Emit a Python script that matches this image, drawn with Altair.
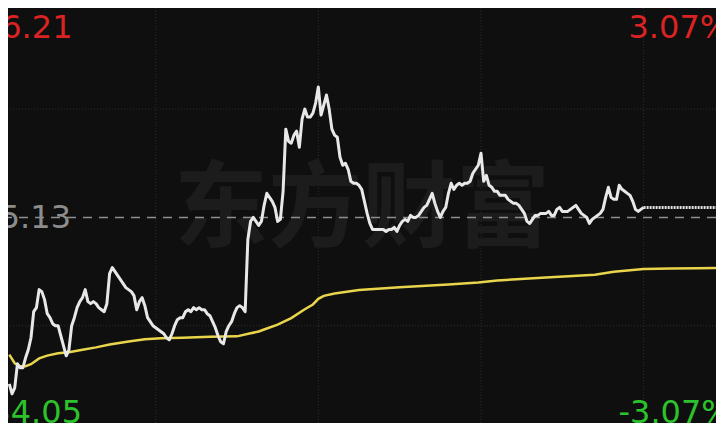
import altair as alt
import pandas as pd

# ---------------- data ----------------
prev_close = 35.13
# trading minutes after 09:30 (240 = 15:00 close)
minutes = list(range(6, 241))
prices = [
    34.30, 34.25, 34.28, 34.40, 34.38, 34.38, 34.43, 34.47, 34.53, 34.66,
    34.68, 34.77, 34.76, 34.72, 34.65, 34.63, 34.60, 34.59, 34.59, 34.54,
    34.49, 34.44, 34.47, 34.59, 34.63, 34.68, 34.71, 34.73, 34.77, 34.71,
    34.70, 34.71, 34.70, 34.68, 34.67, 34.66, 34.70, 34.85, 34.88, 34.86,
    34.84, 34.82, 34.80, 34.78, 34.77, 34.76, 34.74, 34.67, 34.71, 34.73,
    34.69, 34.63, 34.61, 34.59, 34.58, 34.57, 34.56, 34.55, 34.53, 34.52,
    34.55, 34.59, 34.62, 34.63, 34.63, 34.66, 34.67, 34.66, 34.68, 34.67,
    34.68, 34.67, 34.67, 34.65, 34.64, 34.61, 34.58, 34.54, 34.51, 34.50,
    34.56, 34.59, 34.61, 34.65, 34.68, 34.69, 34.68, 34.66, 35.02, 35.11,
    35.13, 35.11, 35.09, 35.11, 35.19, 35.25, 35.23, 35.21, 35.18, 35.11,
    35.12, 35.26, 35.57, 35.51, 35.50, 35.54, 35.56, 35.48, 35.62, 35.67,
    35.63, 35.63, 35.65, 35.70, 35.78, 35.64, 35.69, 35.74, 35.67, 35.57,
    35.54, 35.53, 35.43, 35.39, 35.40, 35.37, 35.31, 35.30, 35.30, 35.29,
    35.27, 35.21, 35.15, 35.10, 35.07, 35.07, 35.07, 35.07, 35.07, 35.06,
    35.07, 35.07, 35.08, 35.06, 35.09, 35.11, 35.12, 35.11, 35.14, 35.13,
    35.13, 35.14, 35.16, 35.18, 35.19, 35.22, 35.25, 35.20, 35.16, 35.13,
    35.16, 35.18, 35.25, 35.30, 35.27, 35.29, 35.30, 35.29, 35.30, 35.30,
    35.31, 35.35, 35.37, 35.39, 35.45, 35.31, 35.34, 35.29, 35.28, 35.26,
    35.26, 35.24, 35.24, 35.24, 35.22, 35.21, 35.20, 35.20, 35.19, 35.17,
    35.15, 35.11, 35.10, 35.12, 35.14, 35.14, 35.15, 35.15, 35.15, 35.16,
    35.14, 35.14, 35.17, 35.18, 35.16, 35.16, 35.16, 35.17, 35.18, 35.19,
    35.17, 35.15, 35.14, 35.13, 35.10, 35.12, 35.13, 35.14, 35.15, 35.17,
    35.23, 35.28, 35.23, 35.22, 35.22, 35.29, 35.27, 35.26, 35.25, 35.24,
    35.21, 35.17, 35.16, 35.17, 35.18,
]
avg_minutes = [6, 8, 10, 12, 14, 17, 20, 24, 28, 33, 38, 43, 50, 56, 62, 70,
               80, 90, 95, 98, 100, 105, 110, 115, 118, 120, 122, 126, 135,
               150, 168, 179, 186, 204, 222, 229, 236, 240, 250, 260, 270]
avg_prices = [34.446, 34.403, 34.388, 34.388, 34.398, 34.427, 34.441, 34.453,
              34.458, 34.470, 34.482, 34.496, 34.511, 34.523, 34.528, 34.530,
              34.535, 34.537, 34.552, 34.561, 34.571, 34.595, 34.628, 34.672,
              34.696, 34.724, 34.739, 34.751, 34.768, 34.782, 34.796, 34.806,
              34.816, 34.830, 34.844, 34.859, 34.868, 34.873, 34.875, 34.877,
              34.878]
after_minutes = [240, 270]          # after-hours fixed-price session
after_price = 35.18
grid_minutes = [60, 120, 180, 240]
grid_prices = [34.59, 35.67]
label_high, label_mid, label_low = "36.21", "35.13", "34.05"
label_up, label_down = "3.07%", "-3.07%"
watermark = "东方财富"

# ---------------- tables ----------------
price_df = pd.DataFrame({"t": minutes, "p": prices})
avg_df = pd.DataFrame({"t": avg_minutes, "p": avg_prices})
after_df = pd.DataFrame({"t": [after_minutes[0]], "t2": [after_minutes[1]], "p": [after_price]})
vgrid_df = pd.DataFrame({"t": grid_minutes})
hgrid_df = pd.DataFrame({"p": grid_prices})
pc_df = pd.DataFrame({"p": [prev_close]})
dummy = alt.Data(values=[{"a": 1}])

BG = "#0f0f0f"
W, H = 708, 415
xs = alt.Scale(domain=[5.52, 266.7], nice=False, zero=False)
ys = alt.Scale(domain=[34.105, 36.174], nice=False, zero=False)
X = lambda f: alt.X(f, type="quantitative", scale=xs, axis=None)
Y = lambda f: alt.Y(f, type="quantitative", scale=ys, axis=None)

vgrid = alt.Chart(vgrid_df).mark_rule(color="#2c2c2c", strokeWidth=1, strokeDash=[1, 2]).encode(x=X("t"))
hgrid = alt.Chart(hgrid_df).mark_rule(color="#2c2c2c", strokeWidth=1, strokeDash=[1, 2]).encode(y=Y("p"))

wm = alt.Chart(dummy).mark_text(
    text=watermark, font="Noto Sans CJK SC", fontSize=94, fontWeight="bold",
    color="#1c1c1c", align="center", baseline="middle"
).encode(x=alt.value(354), y=alt.value(204))

pc_line = alt.Chart(pc_df).mark_rule(color="#8e8e8e", strokeWidth=1.5, strokeDash=[9, 7]).encode(y=Y("p"))

avg_line = alt.Chart(avg_df).mark_line(color="#e8d54c", strokeWidth=2.5, clip=True).encode(
    x=X("t"), y=Y("p"))
price_line = alt.Chart(price_df).mark_line(color="#e8e8e8", strokeWidth=3, clip=True, strokeJoin="round").encode(
    x=X("t"), y=Y("p"))
after_line = alt.Chart(after_df).mark_rule(color="#e0e0e0", strokeWidth=3, strokeDash=[2, 1], clip=True).encode(
    x=X("t"), x2="t2", y=Y("p"))

FONT = "DejaVu Sans"
FS = 32
RED, GREEN, GREY = "#dc2323", "#2cc22c", "#8c8c8c"

def label(txt, color, x, y, align, baseline):
    return alt.Chart(dummy).mark_text(
        text=txt, font=FONT, fontSize=FS, color=color, align=align, baseline=baseline
    ).encode(x=alt.value(x), y=alt.value(y))

labels = [
    label(label_high, RED, 64.5, 30, "right", "alphabetic"),
    label(label_mid, GREY, 63, 210, "right", "middle"),
    label(label_low, GREEN, 74, 415, "right", "alphabetic"),
    label(label_up, RED, 620.5, 30, "left", "alphabetic"),
    label(label_down, GREEN, 610.5, 415, "left", "alphabetic"),
]

chart = alt.layer(vgrid, hgrid, wm, pc_line, avg_line, price_line, after_line, *labels).properties(
    width=W, height=H, autosize=alt.AutoSizeParams(type="none"), padding=0, background=BG
).configure_view(stroke=None)

chart.save("out.html", embed_options={"renderer": "svg", "actions": False})
